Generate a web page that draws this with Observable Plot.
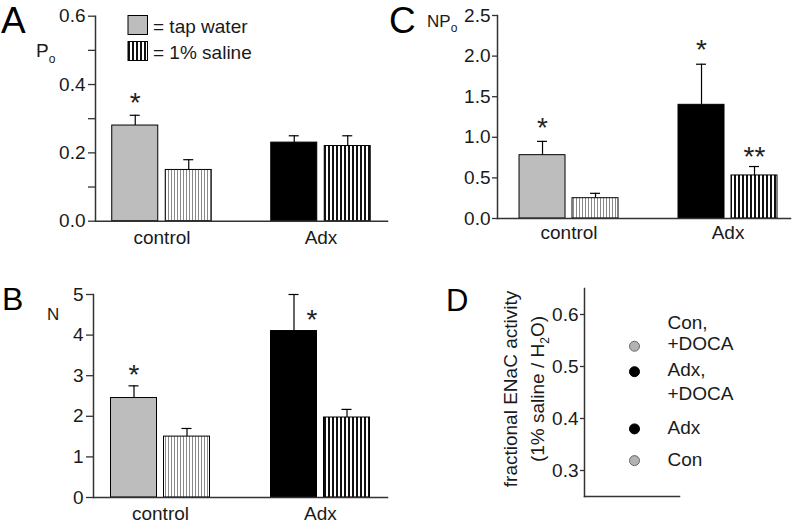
<!DOCTYPE html>
<html>
<head>
<meta charset="utf-8">
<script src="https://cdn.jsdelivr.net/npm/d3@7"></script>
<script src="https://cdn.jsdelivr.net/npm/@observablehq/plot@0.6"></script>
<style>
  html, body { margin: 0; padding: 0; background: #fff; }
  #fig { position: relative; width: 796px; height: 526px; overflow: hidden; font-family: "Liberation Sans", Arial, sans-serif; }
  #fig svg.panel { position: absolute; overflow: visible; }
  #overlay { position: absolute; left: 0; top: 0; pointer-events: none; }
</style>
</head>
<body>
<div id="fig">
  <svg width="0" height="0" style="position:absolute">
    <defs>
      <pattern id="lightStripe" patternUnits="userSpaceOnUse" width="3" height="10">
        <rect width="3" height="10" fill="#fff"/>
        <rect x="0" width="1" height="10" fill="#8a8a8a"/>
      </pattern>
      <pattern id="darkStripe" patternUnits="userSpaceOnUse" width="4" height="10">
        <rect width="4" height="10" fill="#fff"/>
        <rect x="0" width="2" height="10" fill="#111"/>
      </pattern>
    </defs>
  </svg>
</div>
<script>
// ---------------- data ----------------
const groups = ["control", "Adx"];
const seriesNames = ["tap water", "1% saline"];

// Panel A: Po
const poTap = [0.28, 0.23];
const poTapSem = [0.03, 0.02];
const poSaline = [0.15, 0.22];
const poSalineSem = [0.03, 0.03];
const poTicks = [0, 0.1, 0.2, 0.3, 0.4, 0.5, 0.6];
const poTickLabels = ["0.0", "", "0.2", "", "0.4", "", "0.6"];

// Panel B: N
const nTap = [2.45, 4.1];
const nTapSem = [0.3, 0.9];
const nSaline = [1.5, 1.97];
const nSalineSem = [0.2, 0.2];
const nTicks = [0, 1, 2, 3, 4, 5];
const nTickLabels = ["0", "1", "2", "3", "4", "5"];

// Panel C: NPo
const npoTap = [0.78, 1.40];
const npoTapSem = [0.17, 0.50];
const npoSaline = [0.25, 0.53];
const npoSalineSem = [0.06, 0.11];
const npoTicks = [0, 0.5, 1.0, 1.5, 2.0, 2.5];
const npoTickLabels = ["0.0", "0.5", "1.0", "1.5", "2.0", "2.5"];

// significance marks (group, series, level, text)
const starsA = [{group: "control", series: "tap water", y: 0.368, text: "*"}];
const starsB = [{group: "control", series: "tap water", y: 3.21, text: "*"},
                {group: "Adx", series: "tap water", y: 4.56, text: "*"}];
const starsC = [{group: "control", series: "tap water", y: 1.21, text: "*"},
                {group: "Adx", series: "tap water", y: 2.17, text: "*"},
                {group: "Adx", series: "1% saline", y: 0.86, text: "**"}];

// Panel D: fractional ENaC activity
const dLabels = ["Con,\n+DOCA", "Adx,\n+DOCA", "Adx", "Con"];
const dValues = [0.539, 0.490, 0.380, 0.319];
const dKind = ["Con", "Adx", "Adx", "Con"];
const dTicks = [0.3, 0.4, 0.5, 0.6];
const dTickLabels = ["0.3", "0.4", "0.5", "0.6"];

// ---------------- helpers ----------------
const FONT = "Liberation Sans, Arial, sans-serif";
const fills = {
  "control|tap water": "#bdbdbd",
  "control|1% saline": "url(#lightStripe)",
  "Adx|tap water": "#000",
  "Adx|1% saline": "url(#darkStripe)"
};

function rows(tap, tapSem, sal, salSem) {
  const out = [];
  groups.forEach((g, i) => {
    out.push({group: g, series: "tap water", value: tap[i], sem: tapSem[i]});
    out.push({group: g, series: "1% saline", value: sal[i], sem: salSem[i]});
  });
  return out;
}

function barPanel(cfg) {
  const data = rows(cfg.tap, cfg.tapSem, cfg.sal, cfg.salSem);
  const tap = data.filter(d => d.series === "tap water");
  const sal = data.filter(d => d.series === "1% saline");
  const bw = cfg.bw, barW = 46, cap = 5;
  const off = bw / 2 - barW / 2;
  const marks = [
    Plot.barY(tap, {x: "group", y: "value", fill: d => fills[d.group + "|" + d.series],
      stroke: "#000", strokeWidth: 1, insetRight: bw - barW}),
    Plot.barY(sal, {x: "group", y: "value", fill: d => fills[d.group + "|" + d.series],
      stroke: "#000", strokeWidth: 1, insetLeft: bw - barW}),
    Plot.ruleX(tap, {x: "group", y1: "value", y2: d => d.value + d.sem, dx: -off, stroke: "#000", strokeWidth: 1.2}),
    Plot.ruleX(sal, {x: "group", y1: "value", y2: d => d.value + d.sem, dx: off, stroke: "#000", strokeWidth: 1.2}),
    Plot.tickY(tap, {x: "group", y: d => d.value + d.sem, insetLeft: barW / 2 - cap, insetRight: bw - barW / 2 - cap, stroke: "#000", strokeWidth: 1.2}),
    Plot.tickY(sal, {x: "group", y: d => d.value + d.sem, insetLeft: bw - barW / 2 - cap, insetRight: barW / 2 - cap, stroke: "#000", strokeWidth: 1.2}),
    Plot.axisY({ticks: cfg.ticks, tickFormat: (d, i) => cfg.tickLabels[cfg.ticks.indexOf(d)], tickSize: cfg.tickSize, tickPadding: cfg.tickPadding,
      fontSize: 19, stroke: "#333", strokeWidth: 1.3, color: "#1a1a1a"}),
    Plot.axisX({tickSize: 0, tickPadding: cfg.xPad, fontSize: 19, color: "#1a1a1a"}),
    Plot.frame({anchor: "left", stroke: "#333", strokeWidth: 1.5}),
    Plot.frame({anchor: "bottom", stroke: "#333", strokeWidth: 1.5})
  ];
  for (const s of cfg.stars) {
    const shift = (s.series === "tap water" ? -off : off) + (s.extraDx || 0);
    marks.push(Plot.text([s], {x: "group", y: "y", text: "text", dx: shift, dy: 8, fontSize: 28, fill: "#222", fontFamily: FONT}));
  }
  const svg = Plot.plot({
    width: cfg.width, height: cfg.height,
    marginLeft: cfg.ml, marginRight: cfg.mr, marginTop: cfg.mt, marginBottom: cfg.mb,
    style: {fontFamily: FONT, background: "transparent", overflow: "visible"},
    x: {type: "band", domain: groups, paddingInner: cfg.pi, paddingOuter: cfg.po, align: cfg.align, round: false, label: null},
    y: {domain: cfg.domain, label: null},
    color: {type: "identity"},
    marks
  });
  svg.classList.add("panel");
  svg.style.left = cfg.left + "px";
  svg.style.top = cfg.top + "px";
  document.getElementById("fig").appendChild(svg);
}

// Panel A
barPanel({tap: poTap, tapSem: poTapSem, sal: poSaline, salSem: poSalineSem,
  ticks: poTicks, tickLabels: poTickLabels, domain: [0, 0.6], stars: starsA,
  left: 0, top: 0, width: 400, height: 250, ml: 95, mr: 13, mt: 15.7, mb: 29.3,
  bw: 99.5, pi: 0.3742, po: 0.1053, align: 0.5, tickSize: 7, tickPadding: 3, xPad: 9});

// Panel B
barPanel({tap: nTap, tapSem: nTapSem, sal: nSaline, salSem: nSalineSem,
  ticks: nTicks, tickLabels: nTickLabels, domain: [0, 5],
  stars: [starsB[0], Object.assign({}, starsB[1], {extraDx: 18})],
  left: 0, top: 250, width: 400, height: 276, ml: 93, mr: 13, mt: 44, mb: 29,
  bw: 99, pi: 0.38125, po: 0.1094, align: 0.5, tickSize: 7, tickPadding: 3, xPad: 9});

// Panel C
barPanel({tap: npoTap, tapSem: npoTapSem, sal: npoSaline, salSem: npoSalineSem,
  ticks: npoTicks, tickLabels: npoTickLabels, domain: [0, 2.5], stars: starsC,
  left: 390, top: 0, width: 406, height: 250, ml: 107, mr: 6, mt: 15, mb: 32,
  bw: 99, pi: 0.3774, po: 0.1101, align: 0.629, tickSize: 5, tickPadding: 2, xPad: 7});

// Panel D
{
  const dData = dLabels.map((label, i) => ({label, value: dValues[i], kind: dKind[i]}));
  const base = {y: "value", frameAnchor: "middle", text: "label", textAnchor: "start", dx: 35.5, fontSize: 19, fill: "#1a1a1a", fontFamily: FONT};
  const svg = Plot.plot({
    width: 396, height: 276, marginLeft: 184, marginRight: 117, marginTop: 38, marginBottom: 30,
    style: {fontFamily: FONT, background: "transparent", overflow: "visible"},
    y: {domain: [0.25, 0.65], label: null},
    marks: [
      Plot.dot(dData, {y: "value", frameAnchor: "middle", dx: 2.5, r: 5,
        fill: d => d.kind === "Con" ? "#b3b3b3" : "#000", stroke: d => d.kind === "Con" ? "#666" : "#000", strokeWidth: 1}),
      Plot.text(dData.filter((d, i) => i === 0), {...base, lineHeight: 1.1, dy: -13}),
      Plot.text(dData.filter((d, i) => i === 1), {...base, lineHeight: 1.3, dy: 8.5}),
      Plot.text(dData.filter((d, i) => i > 1), {...base, dy: -1}),
      Plot.axisY({ticks: dTicks, tickFormat: d => dTickLabels[dTicks.indexOf(d)], tickSize: 4, tickPadding: 2,
        fontSize: 19, stroke: "#333", strokeWidth: 1.3, color: "#1a1a1a"}),
      Plot.frame({anchor: "left", stroke: "#333", strokeWidth: 1.5}),
      Plot.frame({anchor: "bottom", stroke: "#333", strokeWidth: 1.5})
    ]
  });
  svg.classList.add("panel");
  svg.style.left = "400px";
  svg.style.top = "250px";
  document.getElementById("fig").appendChild(svg);
}

// Overlay: panel letters, axis titles, legend
const ns = "http://www.w3.org/2000/svg";
const ov = document.createElementNS(ns, "svg");
ov.setAttribute("id", "overlay");
ov.setAttribute("width", 796);
ov.setAttribute("height", 526);
ov.setAttribute("font-family", FONT);
ov.innerHTML = `
  <text x="1" y="33" font-size="37" fill="#000">A</text>
  <text x="389" y="33" font-size="37" fill="#000">C</text>
  <text x="2" y="310" font-size="32" fill="#000">B</text>
  <text x="446" y="311" font-size="31" fill="#000">D</text>
  <text x="36" y="57" font-size="19" fill="#1a1a1a">P<tspan font-size="12" dy="6">o</tspan></text>
  <text x="47" y="320" font-size="17" fill="#1a1a1a">N</text>
  <text x="427" y="27" font-size="17" fill="#1a1a1a">NP<tspan font-size="12" dy="5">o</tspan></text>
  <g transform="translate(517,389) rotate(-90)">
    <text x="0" y="0" text-anchor="middle" font-size="19" fill="#1a1a1a">fractional ENaC activity</text>
  </g>
  <g transform="translate(544,389) rotate(-90)">
    <text x="0" y="0" text-anchor="middle" font-size="19" fill="#1a1a1a">(1% saline / H<tspan font-size="12" dy="5">2</tspan><tspan dy="-5">O)</tspan></text>
  </g>
  <rect x="128" y="15.5" width="19.5" height="19" fill="#bdbdbd" stroke="#000" stroke-width="1"/>
  <text x="153" y="33" font-size="19" fill="#1a1a1a">= ${seriesNames[0]}</text>
  <rect x="128" y="41.5" width="19.5" height="19" fill="url(#darkStripe)" stroke="#000" stroke-width="1"/>
  <text x="153" y="59" font-size="19" fill="#1a1a1a">= ${seriesNames[1]}</text>
`;
document.getElementById("fig").appendChild(ov);
</script>
</body>
</html>
